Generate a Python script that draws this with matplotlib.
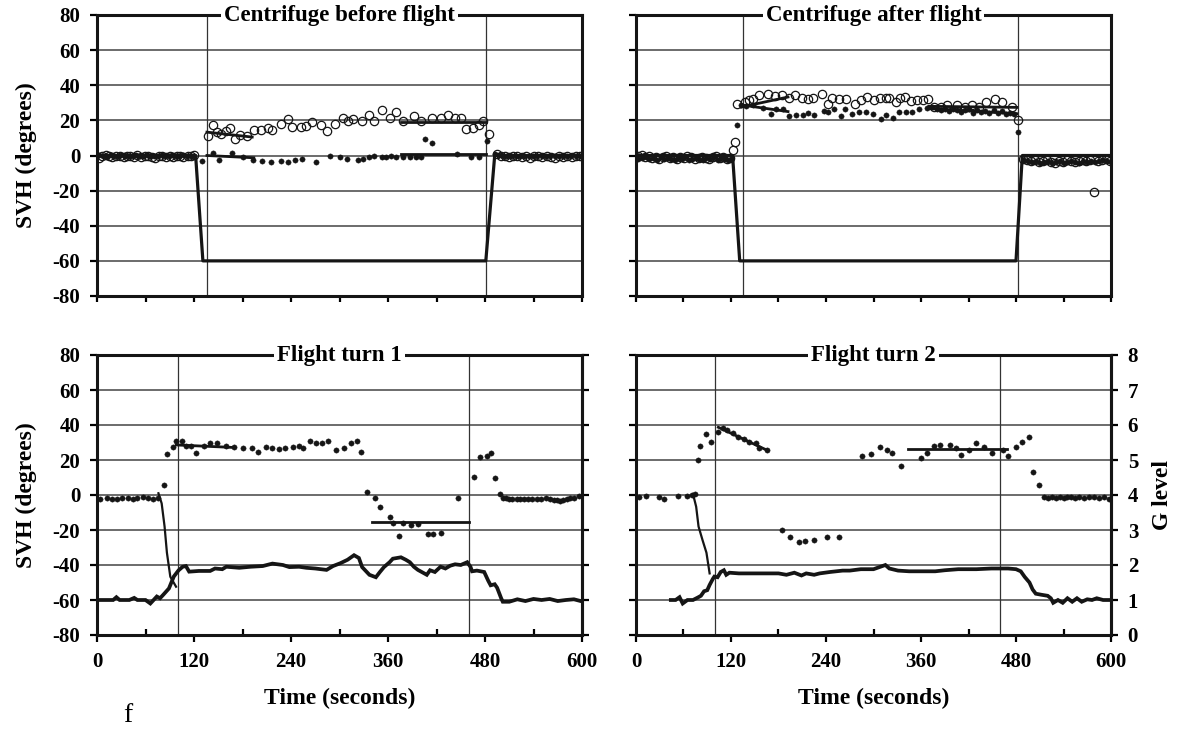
import matplotlib
matplotlib.use("Agg")
import matplotlib.pyplot as plt
from matplotlib.ticker import MultipleLocator

plt.rcParams['font.family'] = ['Liberation Serif', 'DejaVu Serif']
plt.rcParams['font.weight'] = 'bold'
plt.rcParams['axes.unicode_minus'] = False

# ---------------- Centrifuge before flight ----------------
cbf_trace_t = [0, 122, 131, 481, 492, 600]
cbf_trace_v = [0, 0, -60, -60, 0, 0]

cbf_open_t = [2, 6, 11, 15, 19, 24, 28, 33, 37, 41, 46, 50, 55, 59, 63, 68, 72, 77, 81, 85,
              90, 94, 99, 103, 107, 112, 116, 120,
              137, 144, 148, 154, 160, 165, 171, 177, 185, 194, 203, 212, 217, 228, 236, 241,
              252, 259, 266, 277, 285, 295, 304, 310, 317, 328, 337, 343, 352, 362, 370, 378,
              392, 401, 414, 425, 434, 443, 450, 457, 465, 472, 478, 485,
              495, 500, 505, 510, 515, 520, 526, 531, 536, 541, 546, 551, 557, 562, 567, 572,
              577, 582, 588, 593, 598]
cbf_open_v = [-1.5, 0, 0.5, -0.5, -1, 0, -0.5, -1, 0, -0.5, -1, 0.5, -1, -0.5, 0, -1, -1.5, -0.5,
              0, -1, -0.5, -1, 0, -0.5, -1, -0.5, 0, 0.5,
              10.9, 17.1, 13.3, 12.4, 13.7, 15.6, 9.5, 11.8, 10.9, 14.3, 14.3, 15.6, 14.3, 18.1,
              21.0, 16.2, 16.2, 16.6, 19.0, 17.5, 13.9, 18.1, 21.3, 19.6, 20.6, 19.6, 22.9, 19.6,
              25.7, 21.5, 24.8, 19.6, 22.3, 19.6, 21.3, 21.3, 22.9, 21.3, 21.3, 14.9, 15.8, 17.1,
              19.6, 12.4,
              1, 0, -0.5, -1, -0.5, 0, -1, -0.5, -1.5, -0.5, 0, -1, -0.5, -1, -1.5, -0.5, -1,
              -0.5, -1, 0, -0.5]

cbf_dot_t = [3, 8, 12, 17, 21, 26, 30, 35, 39, 44, 48, 53, 57, 62, 66, 71, 75, 80, 84, 89, 93,
             98, 102, 107, 111, 116, 120,
             130, 143, 151, 167, 180, 193, 204, 215, 228, 236, 245, 253, 271, 288, 300, 309, 323,
             329, 337, 343, 352, 358, 364, 370, 379, 387, 395, 401, 406, 414, 445, 463, 472, 483,
             492, 497, 502, 507, 512, 518, 523, 528, 534, 539, 544, 550, 555, 560, 566, 571, 576,
             582, 587, 592, 597]
cbf_dot_v = [0.5, -0.5, 0, 0.5, -0.5, 0, 0.5, 0, -0.5, 0, 0.5, -0.5, 0, 0.5, 0, -0.5, 0, 0.5,
             -0.5, 0, 0.5, 0, -0.5, 0.5, 0, -0.5, 0,
             -3.4, 1.5, -2.5, 1.5, -1, -2.3, -2.9, -3.8, -2.9, -3.8, -2.5, -1.9, -3.8, 0, -1, -1.9,
             -2.5, -1.9, -1, 0, -1, -0.6, -0.4, -1, -1, -1, -1, -1, 9.5, 7, 0.6, -0.6, -1, 8,
             1, 0.5, 0, 0, -0.5, 0, 0, -0.5, 0, 0, -0.5, 0, -0.5, 0, 0, -0.5, 0, 0, -0.5, 0, 0]

# fitted segments: [(t0, t1), (v0, v1)]
cbf_fits = [((136, 192), (13.3, 10.5)), ((376, 481), (19.3, 19.3)),
            ((136, 194), (0.0, -1.3)), ((376, 481), (1.0, 1.0))]
cbf_events = [136, 481]

# ---------------- Centrifuge after flight ----------------
caf_trace_t = [0, 122, 131, 480, 488, 600]
caf_trace_v = [0, 0, -60, -60, 0, 0]

caf_open_t = [2, 7, 11, 16, 20, 25, 29, 34, 38, 43, 47, 52, 56, 61, 65, 70, 74, 79, 83, 88, 92,
              97, 101, 106, 110, 115, 119, 122, 125,
              128, 138, 143, 148, 155, 167, 176, 185, 193, 201, 210, 217, 224, 235, 243, 247, 256,
              265, 276, 284, 292, 301, 308, 316, 320, 328, 334, 340, 347, 355, 363, 369, 376,
              385, 393, 406, 416, 425, 433, 442, 453, 462, 475, 482,
              489, 494, 499, 504, 509, 514, 519, 524, 529, 534, 539, 544, 549, 554, 559, 564,
              569, 574, 579, 584, 589, 594, 599]
caf_open_v = [-0.5, 0.5, -1, -0.5, -1.5, -1, -2, -1, -0.5, -1.5, -1, -2, -1, -1.5, -0.5, -1, -2,
              -1.5, -1, -1.5, -2, -1, -0.5, -1.5, -1, -2, -1.5, 3.2, 7.6,
              29.5, 30.5, 31.4, 32.2, 34.3, 35.2, 33.9, 34.3, 32.8, 34.3, 32.8, 32.4, 32.8, 35.2,
              29.5, 32.8, 32.4, 32.4, 29.5, 31.4, 33.3, 31.4, 32.8, 32.8, 32.8, 30.5, 32.8, 33.3,
              30.9, 31.4, 31.4, 32.4, 27.6, 27.6, 29.0, 28.6, 27.6, 28.6, 27.6, 30.5, 32.4, 30.5,
              27.6, 20.0,
              -2, -2.5, -3, -2.5, -3.5, -3, -2.5, -3.5, -4, -3, -3.5, -2.5, -3, -3.5, -3, -2.5,
              -3, -2.5, -21, -3, -2.5, -2, -3]

caf_dot_t = [3, 8, 13, 17, 22, 26, 31, 35, 40, 44, 49, 53, 58, 62, 67, 71, 76, 80, 85, 89, 94,
             98, 103, 107, 112, 116, 120,
             127, 133, 139, 148, 160, 170, 177, 186, 193, 202, 211, 217, 225, 237, 242, 250, 259,
             264, 273, 282, 290, 299, 309, 316, 325, 332, 341, 349, 357, 368, 374, 380, 385, 390,
             395, 400, 405, 410, 416, 421, 426, 431, 436, 441, 446, 452, 457, 462, 467, 472, 477,
             482,
             490, 495, 500, 505, 510, 515, 520, 525, 530, 535, 540, 545, 550, 555, 560, 565, 570,
             575, 580, 585, 590, 595, 600]
caf_dot_v = [-2, -1.5, -1, -2, -1.5, -2.5, -1, -2, -1.5, -2, -2.5, -1.5, -2, -1, -2.5, -2, -1.5,
             -2, -2.5, -1.5, -2, -1, -2.5, -1.5, -2, -2.5, -2,
             17.5, 28.6, 28.2, 29.0, 27.0, 23.8, 26.7, 26.3, 22.5, 23.0, 22.9, 24.4, 23.2, 25.1,
             24.8, 26.7, 22.5, 26.7, 23.8, 24.8, 24.8, 23.8, 21.0, 22.9, 21.3, 24.8, 24.8, 24.8,
             26.3, 27.0, 27.6, 26.5, 25.7, 26.7, 25.1, 26.2, 25.7, 24.8, 25.7, 26.2, 24.4, 25.7,
             24.8, 25.2, 24.0, 25.7, 24.4, 25.1, 23.8, 24.4, 23.8, 13.3,
             -2.5, -3, -3.5, -3, -4, -3.5, -3, -4, -3.5, -3, -4, -3.5, -3, -3.5, -4, -3, -3.5, -3,
             -3.5, -3, -2.5, -3, -3.5]

caf_fits = [((133, 192), (27.6, 33.3)), ((370, 481), (28.0, 27.4)),
            ((133, 192), (28.8, 25.0)), ((370, 481), (26.7, 23.8))]
caf_events = [135, 482]

# ---------------- Flight turn 1 ----------------
ft1_tilt_t = [76, 80, 83.6, 86.5, 90.7, 97.8]
ft1_tilt_v = [1.0, -4.8, -18, -33, -46.7, -52.4]

ft1_dot_t = [4, 12, 19, 25, 31, 38, 44, 50, 57, 63, 69, 75,
             83, 87, 94, 98, 105, 110, 116, 123, 132, 140, 148, 159, 169, 180, 192, 199, 209,
             217, 225, 233, 242, 250, 255, 263, 271, 278, 286, 296, 306, 314, 322, 327, 334,
             344, 350, 363, 366, 373, 379, 389, 397, 410, 416, 426, 447, 466, 474, 483, 487,
             492, 498,
             502, 506, 510, 514, 519, 523, 528, 533, 538, 544, 549, 556, 561, 565, 569, 573,
             577, 581, 585, 590, 596]
ft1_dot_v = [-2.5, -1.9, -2.3, -2.3, -1.9, -1.5, -2.3, -1.9, -1.0, -1.9, -2.3, -1.9,
             5.7, 23.2, 27.2, 30.9, 30.9, 28.0, 28.0, 24.2, 28.0, 29.9, 29.9, 28.0, 27.6, 26.7,
             26.7, 24.8, 27.6, 26.7, 26.1, 26.7, 27.2, 28.0, 26.7, 30.9, 29.9, 29.9, 30.9, 25.7,
             26.7, 29.9, 30.9, 24.8, 1.9, -1.5, -6.7, -12.4, -15.8, -23.4, -15.8, -17.1, -16.6,
             -22.3, -22.3, -21.5, -1.5, 10.5, 21.9, 22.3, 23.8, 9.9, 0.4,
             -1.5, -1.9, -2.3, -2.3, -2.5, -2.5, -2.3, -2.5, -2.5, -2.5, -2.3, -1.9, -2.5, -2.9,
             -2.9, -3.4, -2.9, -2.5, -1.9, -1.5, -0.6]

ft1_g_t = [0, 10, 20, 24, 28, 40, 46, 50, 60, 66, 70, 74, 78, 82, 89, 95, 101, 106, 110, 114,
           126, 140, 146, 155, 160, 176, 190, 205, 217, 230, 238, 250, 259, 270, 284, 292, 301,
           310, 318, 324, 328, 337, 345, 350, 355, 362, 366, 376, 382, 387, 392, 397, 408, 412,
           418, 425, 431, 437, 443, 450, 458, 462, 464, 470, 479, 484, 487, 492, 495, 500, 502,
           510, 520, 530, 540, 550, 560, 570, 580, 590, 600]
ft1_g_v = [1.0, 1.0, 1.0, 1.08, 1.0, 1.0, 1.06, 1.0, 1.0, 0.9, 1.0, 1.1, 1.05, 1.15, 1.33, 1.67,
           1.85, 1.95, 1.97, 1.81, 1.83, 1.83, 1.9, 1.88, 1.95, 1.92, 1.95, 1.97, 2.04, 2.0,
           1.94, 1.95, 1.92, 1.9, 1.86, 1.97, 2.05, 2.15, 2.28, 2.2, 1.94, 1.72, 1.65, 1.8,
           1.94, 2.08, 2.18, 2.22, 2.15, 2.08, 1.95, 1.86, 1.72, 1.85, 1.8, 1.95, 1.9, 1.98,
           2.02, 2.0, 2.08, 1.95, 1.82, 1.84, 1.8, 1.55, 1.42, 1.45, 1.35, 1.05, 0.95, 0.95,
           1.02, 0.97, 1.03, 1.0, 1.03, 0.97, 1.0, 1.02, 0.96]

ft1_fits = [((98, 167), (28.6, 27.2)), ((340, 460), (-15.6, -15.6))]
ft1_events = [100, 460]

# ---------------- Flight turn 2 ----------------
ft2_tilt_t = [72, 76, 79, 84, 89, 93]
ft2_tilt_v = [0.6, -6.7, -18, -25.7, -33, -44.8]

ft2_dot_t = [4, 13, 29, 35, 53, 65, 71, 74,
             78, 81, 89, 95, 104, 110, 115, 122, 129, 136, 143, 151, 155, 165, 184, 195, 206,
             213, 225, 241, 257, 285, 297, 308, 317, 323, 335, 360, 368, 376, 384, 396, 404,
             411, 421, 429, 439, 450, 463, 470, 480, 488, 496, 502, 509,
             515, 520, 525, 530, 535, 540, 545, 550, 555, 560, 566, 572, 578, 585, 591, 597]
ft2_dot_v = [-1.0, -0.6, -1.0, -2.5, -0.6, -0.6, 0.0, 0.4,
             20.0, 28.0, 34.7, 30.5, 36.2, 38.1, 37.1, 35.2, 33.3, 32.0, 30.5, 29.9, 26.7, 25.7,
             -20.0, -23.8, -26.7, -26.3, -25.7, -23.8, -23.8, 22.3, 23.4, 27.2, 25.7, 24.2, 16.6,
             21.0, 24.2, 28.0, 28.6, 28.6, 26.7, 22.9, 25.7, 29.5, 27.2, 24.2, 25.7, 22.3, 27.2,
             30.5, 33.0, 13.3, 5.7,
             -1, -1.5, -1, -1.5, -1, -1.5, -1, -1, -1.5, -1, -1.5, -1, -1, -1.5, -1, -2]

ft2_g_t = [44, 50, 55, 59, 65, 72, 78, 82, 86, 90, 93, 97, 99, 103, 107, 111, 114, 118, 130,
           143, 160, 180, 190, 200, 209, 215, 225, 232, 245, 261, 270, 284, 300, 310, 315, 320,
           331, 345, 355, 378, 390, 407, 430, 449, 470, 480, 486, 491, 497, 501, 505, 512, 520,
           524, 527, 533, 539, 545, 551, 557, 563, 570, 576, 582, 590, 600]
ft2_g_v = [1.0, 1.0, 1.08, 0.9, 1.0, 1.0, 1.07, 1.12, 1.25, 1.28, 1.43, 1.6, 1.67, 1.65, 1.8,
           1.85, 1.72, 1.78, 1.76, 1.76, 1.76, 1.76, 1.72, 1.78, 1.7, 1.76, 1.72, 1.76, 1.8,
           1.84, 1.84, 1.88, 1.88, 1.96, 2.0, 1.9, 1.84, 1.82, 1.82, 1.82, 1.85, 1.88, 1.88,
           1.9, 1.9, 1.88, 1.82, 1.66, 1.5, 1.3, 1.18, 1.15, 1.12, 1.05, 0.92, 1.0, 0.92, 1.05,
           0.95, 1.05, 0.95, 1.02, 1.0, 1.05, 1.0, 1.0]

ft2_fits = [((104, 165), (38.7, 25.7)), ((343, 468), (26.1, 26.1))]
ft2_events = [100, 460]

W, H = 1182, 730
INK = '#151515'
TICK_FS = 15
LABEL_FS = 17
fig = plt.figure(figsize=(W / 100, H / 100), dpi=100)


def add_panel(left, top, right, bottom):
    return fig.add_axes([left / W, 1 - bottom / H, (right - left) / W, (bottom - top) / H])


def style_panel(ax, title, events, bottom_row, left_col):
    ax.set_xlim(0, 600)
    ax.set_ylim(-80, 80)
    ax.xaxis.set_major_locator(MultipleLocator(120))
    ax.xaxis.set_minor_locator(MultipleLocator(60))
    ax.yaxis.set_major_locator(MultipleLocator(20))
    ax.grid(axis='y', color='#444444', lw=1.1)
    ax.set_axisbelow(True)
    for sp in ax.spines.values():
        sp.set_linewidth(2.2)
        sp.set_color(INK)
    for t in events:
        ax.axvline(t, color='#333333', lw=0.9, zorder=1)
    if bottom_row:
        ax.tick_params(axis='x', which='major', direction='out', length=5, width=1.6,
                       pad=7, labelsize=TICK_FS)
        ax.tick_params(axis='x', which='minor', direction='in', length=4, width=1.6)
    else:
        ax.tick_params(axis='x', which='both', direction='out', length=4, width=1.6,
                       labelbottom=False)
    ax.tick_params(axis='y', direction='out', length=5, width=1.6, pad=7,
                   labelsize=TICK_FS, labelleft=left_col)
    ax.text(0.5, 1.0, title, transform=ax.transAxes, ha='center', va='center',
            fontsize=16.5, zorder=6,
            bbox=dict(boxstyle='square,pad=0.12', fc='white', ec='none'))


def draw_fits(ax, fits):
    for (t0, t1), (v0, v1) in fits:
        ax.plot([t0, t1], [v0, v1], color=INK, lw=2.0, zorder=4)


def open_circles(ax, t, v):
    ax.plot(t, v, ls='none', marker='o', ms=6, mfc='none', mec=INK, mew=0.9, zorder=3)


def filled_dots(ax, t, v):
    ax.plot(t, v, ls='none', marker='o', ms=3.8, mfc=INK, mec=INK, mew=0.3, zorder=3)


def g_axis(ax, t, g, labels):
    gx = ax.twinx()
    gx.set_ylim(0, 8)
    gx.set_xlim(0, 600)
    gx.yaxis.set_major_locator(MultipleLocator(1))
    for side in ('top', 'left', 'bottom'):
        gx.spines[side].set_visible(False)
    gx.spines['right'].set_linewidth(2.2)
    gx.spines['right'].set_color(INK)
    gx.tick_params(axis='y', direction='out', length=5, width=1.6, pad=7,
                   labelsize=TICK_FS, labelright=labels)
    gx.plot(t, g, color=INK, lw=2.7, solid_joinstyle='miter', zorder=3)
    return gx


# top left
ax1 = add_panel(97, 15, 582, 296)
style_panel(ax1, 'Centrifuge before flight', cbf_events, False, True)
ax1.plot(cbf_trace_t, cbf_trace_v, color=INK, lw=2.3, zorder=2)
filled_dots(ax1, cbf_dot_t, cbf_dot_v)
open_circles(ax1, cbf_open_t, cbf_open_v)
draw_fits(ax1, cbf_fits)

# top right
ax2 = add_panel(636, 15, 1111, 296)
style_panel(ax2, 'Centrifuge after flight', caf_events, False, False)
ax2.plot(caf_trace_t, caf_trace_v, color=INK, lw=2.3, zorder=2)
filled_dots(ax2, caf_dot_t, caf_dot_v)
open_circles(ax2, caf_open_t, caf_open_v)
draw_fits(ax2, caf_fits)

# bottom left
ax3 = add_panel(97, 355, 582, 635)
style_panel(ax3, 'Flight turn 1', ft1_events, True, True)
ax3.plot(ft1_tilt_t, ft1_tilt_v, color=INK, lw=1.6, zorder=2)
filled_dots(ax3, ft1_dot_t, ft1_dot_v)
draw_fits(ax3, ft1_fits)
g_axis(ax3, ft1_g_t, ft1_g_v, False)

# bottom right
ax4 = add_panel(636, 355, 1111, 635)
style_panel(ax4, 'Flight turn 2', ft2_events, True, False)
ax4.plot(ft2_tilt_t, ft2_tilt_v, color=INK, lw=1.6, zorder=2)
filled_dots(ax4, ft2_dot_t, ft2_dot_v)
draw_fits(ax4, ft2_fits)
g_axis(ax4, ft2_g_t, ft2_g_v, True)

# axis titles
for yc in (155, 495):
    fig.text(26 / W, 1 - yc / H, 'SVH (degrees)', rotation=90, ha='center', va='center',
             fontsize=LABEL_FS)
for xc in (339.5, 873.5):
    fig.text(xc / W, 1 - 698 / H, 'Time (seconds)', ha='center', va='center', fontsize=LABEL_FS)
fig.text(1163 / W, 1 - 495 / H, 'G level', rotation=90, ha='center', va='center',
         fontsize=LABEL_FS)
fig.text(128 / W, 1 - 715 / H, 'f', ha='center', va='center', fontsize=20,
         fontweight='normal')

fig.savefig('out.png', dpi=100)
